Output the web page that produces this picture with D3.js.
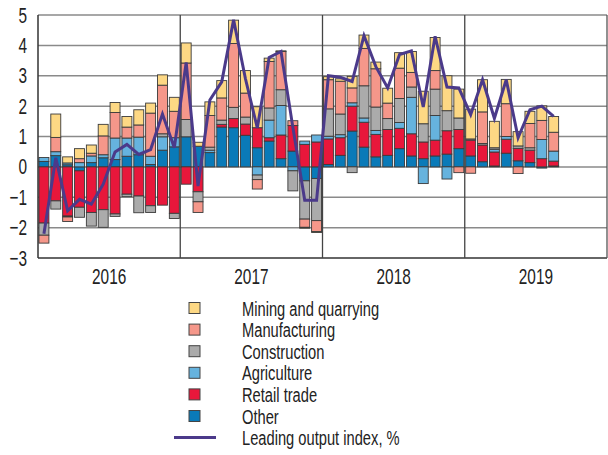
<!DOCTYPE html>
<html><head><meta charset="utf-8">
<script src="https://cdn.jsdelivr.net/npm/d3@7"></script>
<style>
body{margin:0;background:#fff;}
text{font-family:"Liberation Sans",Arial,sans-serif;fill:#222;}
</style></head>
<body><svg id="c" width="608" height="455"></svg>
<script>
const years = ["2016","2017","2018","2019"];
const yTicks = [-3,-2,-1,0,1,2,3,4,5];
const seriesNames = ["Other","Retail trade","Agriculture","Construction","Manufacturing","Mining and quarrying"];
const other = [0.18,0.37,0.07,-0.13,0.14,0.3,0.24,0.35,0.4,0.08,0.55,0.66,
  0.99,0.68,0.47,1.31,1.29,1.04,0.63,0.85,0.27,0.52,-0.46,-0.38,
  0.08,0.38,1.18,0.65,0.33,0.38,0.6,0.36,0.27,0.36,0.42,0.6,
  0.36,0.17,0.03,0.45,0.2,0.14,-0.04,0.03];
const retail = [-1.85,-1.12,-1.62,-1.2,-1.5,-1.41,-1.55,-0.9,-0.96,-1.28,-1.26,-1.53,
  -0.57,-0.82,0,0.09,0.3,0.37,0.66,0.11,0.78,0.84,0.74,0.82,
  0.84,0.58,0.82,0.82,0.74,0.85,0.67,0.73,0.55,0.52,0.77,0.63,
  0.52,0.55,0.46,0.46,0.41,0.41,0.27,0.16];
const agriculture = [0.13,0.13,0.06,0.14,0.22,0.1,0.71,0.6,0.58,0.27,0.44,0.3,
  0,0,0.08,0,0,0,-0.27,0.58,0.97,-0.13,0.11,0.23,
  0.09,0.1,0.11,0.14,0.13,0,0.19,1.2,-0.55,0.81,-0.4,0,
  0,0,0.09,0.09,0,0,0.63,0.33];
const construction = [-0.4,-0.27,-0.03,-0.33,-0.45,-0.58,-0.08,-0.08,-0.55,-0.22,0.1,-0.17,
  0.57,-0.33,0.1,0.14,0.37,0.23,-0.15,0.4,0.52,-0.66,-1.26,-1.39,
  0.9,0.68,-0.19,1.06,0.77,0.36,0.79,0.34,0.6,0.87,0.66,0.38,
  0.04,0.05,0.05,0,0.08,0.08,0,0];
const manufacturing = [-0.26,0.47,-0.15,0.13,0.09,0.62,0.84,0.36,0.4,1.42,1.6,0.87,
  1.86,-0.35,1.04,0.73,2.1,0.79,-0.31,1.53,1.26,0.16,-0.27,-0.36,
  0.96,1.08,0.49,1.23,1.26,0.51,1.0,0.48,0,0.61,0,-0.19,
  -0.21,1.04,0,1.08,-0.22,0.8,0.63,0.62];
const mining = [0,0.77,0.2,0.33,0.27,0.38,0.33,0.35,0.5,0.33,0.34,0.46,
  0.66,0.13,0.45,0.57,0.77,0.74,0.69,0.11,0.02,0,-0.03,-0.03,
  0.1,0.08,0.38,0.44,0.22,0.49,0.51,0.69,1.07,1.09,1.15,0.95,
  0.98,1.06,0.87,0.8,0.47,0.4,0.48,0.52];
const leadingIndex = [-2.2,0.3,-1.45,-1.07,-1.23,-0.57,0.49,0.74,0.41,0.57,1.74,0.63,
  3.44,-0.63,2.2,2.8,4.84,2.9,1.28,3.6,3.8,1.3,-1.1,-1.1,
  3.0,2.95,2.81,4.32,3.3,2.6,3.7,3.82,1.97,4.3,2.63,2.6,
  1.72,2.87,1.6,2.87,0.96,1.88,2.0,1.66];
const colors = {"Other":"#0a7ab8","Retail trade":"#e8173b","Agriculture":"#66b3de","Construction":"#ababab","Manufacturing":"#f5978a","Mining and quarrying":"#fdd884"};
const lineColor = "#4b3a8a";

const svg = d3.select("#c");
const L=38, R=607, T=15, B=258;
const SX = 0.7;
const months = d3.range(48);
const x = d3.scaleBand().domain(months).range([L,R]).paddingInner(0.16).paddingOuter(0.08);
const y = d3.scaleLinear().domain([-3,5]).range([B,T]);

const seriesData = [other, retail, agriculture, construction, manufacturing, mining];
const rows = other.map((_,i)=>{const r={i}; seriesNames.forEach((n,k)=>r[n]=seriesData[k][i]); return r;});
const stack = d3.stack().keys(seriesNames).offset(d3.stackOffsetDiverging)(rows);

function label(g, tx, ty, str, size, anchor){
  return g.append("text").attr("transform",`translate(${tx},${ty}) scale(${SX},1)`)
    .attr("font-size",size).attr("text-anchor",anchor||"start").text(str);
}

// grid
svg.append("g").selectAll("line").data(yTicks).join("line")
  .attr("x1",L).attr("x2",R).attr("y1",d=>y(d)).attr("y2",d=>y(d))
  .attr("stroke",d=>d===-3?"#333":"#8a8a8a").attr("stroke-width",1.5);

// bars
svg.append("g").selectAll("g").data(stack).join("g")
  .attr("fill",d=>colors[d.key])
  .selectAll("rect").data(d=>d.filter(p=>p[1]-p[0]!==0)).join("rect")
  .attr("x",d=>x(d.data.i)).attr("width",x.bandwidth())
  .attr("y",d=>y(Math.max(d[0],d[1]))).attr("height",d=>Math.abs(y(d[0])-y(d[1])))
  .attr("stroke","#3a3a3a").attr("stroke-width",0.9);

// year separators and frame
const sep = [12,24,36];
svg.append("g").selectAll("line").data(sep).join("line")
  .attr("x1",d=>L+(R-L)*d/48).attr("x2",d=>L+(R-L)*d/48).attr("y1",T).attr("y2",B)
  .attr("stroke","#444").attr("stroke-width",1.3);
svg.append("line").attr("x1",L).attr("x2",L).attr("y1",T).attr("y2",B).attr("stroke","#333").attr("stroke-width",1.5);
svg.append("line").attr("x1",R).attr("x2",R).attr("y1",T).attr("y2",B).attr("stroke","#555").attr("stroke-width",1.3);

// line
const line = d3.line().x((d,i)=>x(i)+x.bandwidth()/2).y(d=>y(d));
svg.append("path").datum(leadingIndex).attr("d",line).attr("fill","none")
  .attr("stroke",lineColor).attr("stroke-width",3).attr("stroke-linejoin","miter");

// y axis labels
const yAxis = d3.axisLeft(y).tickValues(yTicks).tickSize(0).tickPadding(11);
const ga = svg.append("g").attr("transform",`translate(${L},0)`).call(yAxis);
ga.select(".domain").remove();
ga.selectAll("text").attr("font-size",22).attr("fill","#222")
  .attr("x",-11/SX).attr("transform",`scale(${SX},1)`)
  .style("font-family","'Liberation Sans',Arial,sans-serif");

// year labels
const gy = svg.append("g");
years.forEach((d,i)=>label(gy, L+(R-L)*(i*12+6)/48, 284, d, 22, "middle"));

// legend
const legendItems = ["Mining and quarrying","Manufacturing","Construction","Agriculture","Retail trade","Other"];
const lg = svg.append("g");
legendItems.forEach((n,k)=>{
  const cy = 308 + k*21.6;
  lg.append("rect").attr("x",189).attr("y",cy-5.5).attr("width",11).attr("height",11)
    .attr("fill",colors[n]).attr("stroke","#444").attr("stroke-width",1);
  label(lg, 242, cy+7.5, n, 21);
});
const ly = 308 + 6*21.6;
lg.append("line").attr("x1",174).attr("x2",216).attr("y1",ly).attr("y2",ly).attr("stroke",lineColor).attr("stroke-width",3);
label(lg, 242, ly+7.5, "Leading output index, %", 21);
</script></body></html>
